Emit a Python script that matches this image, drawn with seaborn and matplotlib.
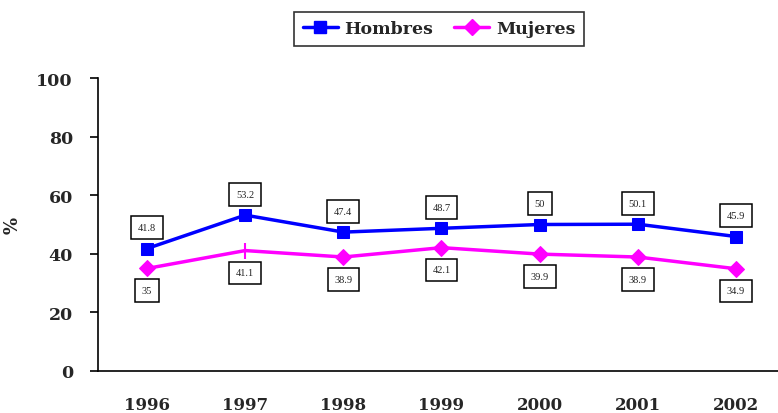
import matplotlib
matplotlib.use("Agg")
import matplotlib.pyplot as plt
import seaborn as sns
import pandas as pd
from matplotlib.lines import Line2D

years = ["1996", "1997", "1998", "1999", "2000", "2001", "2002"]
hombres = [41.8, 53.2, 47.4, 48.7, 50, 50.1, 45.9]
mujeres = [35, 41.1, 38.9, 42.1, 39.9, 38.9, 34.9]
yticks = [0, 20, 40, 60, 80, 100]

sns.set_theme(style="white")
plt.rcParams["font.family"] = ["DejaVu Serif"]

BLUE = "#0000FF"
MAG = "#FF00FF"

fig = plt.figure(figsize=(7.78, 4.14), dpi=100)
ax = fig.add_axes([98 / 778, 42 / 414, 687 / 778, 293 / 414])

df = pd.DataFrame({"year": years, "Hombres": hombres, "Mujeres": mujeres})
xpos = list(range(len(years)))

sns.lineplot(x=xpos, y=df["Hombres"], ax=ax, color=BLUE, lw=2.5,
             marker="s", markersize=8.5, markeredgecolor=BLUE, legend=False)
mark_idx = [i for i in xpos if i != 1]
sns.lineplot(x=xpos, y=df["Mujeres"], ax=ax, color=MAG, lw=2.5,
             marker="D", markersize=8, markeredgecolor=MAG, markevery=mark_idx,
             legend=False)
ax.plot(xpos[1], mujeres[1], marker="|", markersize=11, mew=1.5, color=MAG)

box = dict(boxstyle="square,pad=0.65", fc="white", ec="black", lw=1.1)
lblfamily = ["Liberation Serif", "DejaVu Serif"]
for i, v in enumerate(hombres):
    ax.annotate(f"{v:g}", (i, v), xytext=(0, 15), textcoords="offset points",
                ha="center", va="center", color="#222222", bbox=box,
                fontfamily=lblfamily, fontsize=7.5)
for i, v in enumerate(mujeres):
    ax.annotate(f"{v:g}", (i, v), xytext=(0, -16), textcoords="offset points",
                ha="center", va="center", color="#222222", bbox=box,
                fontfamily=lblfamily, fontsize=7.5)

ax.set_xlim(-0.5, len(years) - 0.5)
ax.set_ylim(0, 100)
ax.set_yticks(yticks)
ax.set_yticklabels([str(t) for t in yticks], fontsize=12.5, fontweight="bold")
ax.set_xticks(xpos)
ax.set_xticklabels(years, fontsize=12, fontweight="bold")
ax.set_xticks([i - 0.5 for i in range(len(years) + 1)], minor=True)
ax.tick_params(axis="x", which="major", length=0, pad=18)
ax.tick_params(axis="x", which="minor", length=6, width=1.2, color="black", direction="out")
ax.tick_params(axis="y", length=6, width=1.2, color="black", direction="out", pad=12, left=True)
for s in ["top", "right"]:
    ax.spines[s].set_visible(False)
for s in ["left", "bottom"]:
    ax.spines[s].set_color("black")
    ax.spines[s].set_linewidth(1.2)
ax.set_xlabel("")
ax.set_ylabel("%", fontsize=13, fontweight="bold")
ax.yaxis.set_label_coords((22 - 98) / 687, 0.5)
ax.grid(False)

handles = [
    Line2D([], [], color=BLUE, lw=2.5, marker="s", markersize=8.5),
    Line2D([], [], color=MAG, lw=2.5, marker="D", markersize=8),
]
leg = fig.legend(handles, ["Hombres", "Mujeres"], loc="center",
                 bbox_to_anchor=(439 / 778, 1 - 30 / 414), ncol=2, frameon=True,
                 fancybox=False, edgecolor="black", handlelength=2.0,
                 columnspacing=1.2, handletextpad=0.4, borderpad=0.5,
                 prop={"size": 12.5, "weight": "bold"})
leg.get_frame().set_linewidth(1.2)

fig.savefig("out.png", dpi=100)
